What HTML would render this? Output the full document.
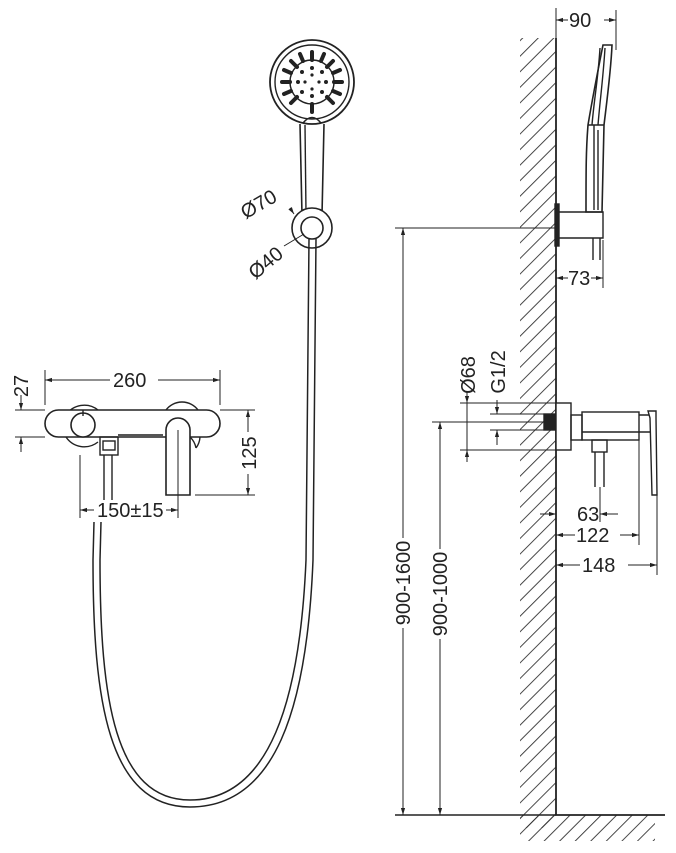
<!DOCTYPE html>
<html><head><meta charset="utf-8"><style>
html,body{margin:0;padding:0;background:#fff;}
svg{display:block;}
text{font-family:"Liberation Sans",sans-serif;font-size:20px;fill:#222;}
</style></head><body>
<svg width="676" height="853" viewBox="0 0 676 853" xmlns="http://www.w3.org/2000/svg">
<defs>
<marker id="a" viewBox="0 0 10 10" refX="10" refY="5" markerWidth="7" markerHeight="7" orient="auto-start-reverse"><path d="M0,2 L10,5 L0,8 z" fill="#222"/></marker>
<pattern id="h" patternUnits="userSpaceOnUse" width="11" height="11" patternTransform="rotate(45)"><line x1="0" y1="0" x2="0" y2="11" stroke="#333" stroke-width="1.8"/></pattern>
</defs>
<g stroke="#222" fill="none" stroke-width="1.4">
<!-- wall -->
<rect x="520" y="38" width="36" height="790" fill="url(#h)" stroke="none"/>
<rect x="520" y="815" width="135" height="26" fill="url(#h)" stroke="none"/>
<path d="M556,38 L556,815 L665,815" stroke-width="1.8"/>
<line x1="395" y1="815" x2="556" y2="815"/>
<!-- 900-1600 / 900-1000 -->
<line x1="395" y1="228" x2="556" y2="228" stroke-width="1"/>
<line x1="403" y1="228" x2="403" y2="538" stroke-width="1" marker-start="url(#a)"/>
<line x1="403" y1="628" x2="403" y2="815" stroke-width="1" marker-end="url(#a)"/>
<line x1="432" y1="422" x2="545" y2="422" stroke-width="1"/>
<line x1="440" y1="422" x2="440" y2="549" stroke-width="1" marker-start="url(#a)"/>
<line x1="440" y1="639" x2="440" y2="815" stroke-width="1" marker-end="url(#a)"/>
<!-- side shower -->
<line x1="556" y1="8" x2="556" y2="38" stroke-width="1"/>
<line x1="616" y1="10" x2="616" y2="50" stroke-width="1"/>
<line x1="556" y1="20" x2="568" y2="20" stroke-width="1" marker-start="url(#a)"/>
<line x1="604" y1="20" x2="616" y2="20" stroke-width="1" marker-end="url(#a)"/>
<rect x="555" y="204" width="4" height="42" fill="#222"/>
<path d="M559,212 H603 V238 H559"/>
<line x1="593" y1="238" x2="593" y2="260"/><line x1="600" y1="238" x2="600" y2="260"/>
<path d="M586,212 C586,170 586,150 588,125 C593,95 598,70 603,45 L612,45 C611,70 607,100 604,125 L602,212 Z" stroke-width="1.6"/>
<path d="M588,125 L604,125 M594,125 L594,210 M598,130 L598,210 M600,48 C598,80 594,100 592,125 M605,48 C603,80 600,100 598,125"/>
<line x1="603" y1="240" x2="603" y2="288" stroke-width="1"/>
<line x1="556" y1="278" x2="568" y2="278" stroke-width="1" marker-start="url(#a)"/>
<line x1="591" y1="278" x2="603" y2="278" stroke-width="1" marker-end="url(#a)"/>
<!-- side mixer -->
<rect x="544" y="414" width="12" height="16" fill="#222"/>
<rect x="556" y="403" width="15" height="47" fill="#fff"/>
<rect x="571" y="415" width="11" height="25"/>
<rect x="582" y="412" width="57" height="28"/>
<line x1="582" y1="432" x2="639" y2="432"/>
<path d="M639,415 H651 V432 H639"/>
<path d="M648,411 H656 V418 L657,495 L652,495 L650,418 Z" fill="#fff"/>
<rect x="592" y="440" width="15" height="12"/>
<line x1="595" y1="452" x2="595" y2="487"/><line x1="604" y1="452" x2="604" y2="487"/>
<!-- Ø68 / G1/2 -->
<line x1="460" y1="403" x2="556" y2="403" stroke-width="1"/>
<line x1="460" y1="450" x2="556" y2="450" stroke-width="1"/>
<line x1="467" y1="392" x2="467" y2="403" stroke-width="1" marker-end="url(#a)"/>
<line x1="467" y1="462" x2="467" y2="450" stroke-width="1" marker-end="url(#a)"/>
<line x1="467" y1="403" x2="467" y2="450" stroke-width="1"/>
<line x1="490" y1="414" x2="544" y2="414" stroke-width="1"/>
<line x1="490" y1="430" x2="544" y2="430" stroke-width="1"/>
<line x1="497" y1="400" x2="497" y2="414" stroke-width="1" marker-end="url(#a)"/>
<line x1="497" y1="445" x2="497" y2="430" stroke-width="1" marker-end="url(#a)"/>
<!-- 63 122 148 -->
<line x1="600" y1="487" x2="600" y2="522" stroke-width="1"/>
<line x1="639" y1="440" x2="639" y2="545" stroke-width="1"/>
<line x1="657" y1="495" x2="657" y2="575" stroke-width="1"/>
<line x1="540" y1="514" x2="556" y2="514" stroke-width="1" marker-end="url(#a)"/>
<line x1="618" y1="514" x2="600" y2="514" stroke-width="1" marker-end="url(#a)"/>
<line x1="556" y1="535" x2="575" y2="535" stroke-width="1" marker-start="url(#a)"/>
<line x1="620" y1="535" x2="639" y2="535" stroke-width="1" marker-end="url(#a)"/>
<line x1="556" y1="565" x2="580" y2="565" stroke-width="1" marker-start="url(#a)"/>
<line x1="628" y1="565" x2="657" y2="565" stroke-width="1" marker-end="url(#a)"/>
<!-- shower head front -->
<circle cx="312" cy="82" r="42" stroke-width="1.8"/>
<circle cx="312" cy="82" r="37"/>
<circle cx="312" cy="82" r="22"/>
<g stroke-width="4" stroke-linecap="round">
<line x1="312" y1="52" x2="312" y2="60"/><line x1="312" y1="104" x2="312" y2="112"/>
<line x1="282" y1="82" x2="290" y2="82"/><line x1="334" y1="82" x2="342" y2="82"/>
<line x1="291" y1="61" x2="297" y2="67"/><line x1="327" y1="97" x2="333" y2="103"/>
<line x1="333" y1="61" x2="327" y2="67"/><line x1="297" y1="97" x2="291" y2="103"/>
<line x1="300" y1="54" x2="303" y2="61"/><line x1="324" y1="54" x2="321" y2="61"/>
<line x1="284" y1="70" x2="291" y2="73"/><line x1="340" y1="70" x2="333" y2="73"/>
<line x1="284" y1="94" x2="291" y2="91"/><line x1="340" y1="94" x2="333" y2="91"/>
</g>
<g fill="#222" stroke="none">
<circle cx="312" cy="68" r="2"/><circle cx="312" cy="96" r="2"/><circle cx="298" cy="82" r="2"/><circle cx="326" cy="82" r="2"/>
<circle cx="302" cy="72" r="2"/><circle cx="322" cy="72" r="2"/><circle cx="302" cy="92" r="2"/><circle cx="322" cy="92" r="2"/>
<circle cx="312" cy="75" r="1.6"/><circle cx="312" cy="89" r="1.6"/><circle cx="305" cy="82" r="1.6"/><circle cx="319" cy="82" r="1.6"/>
</g>
<path d="M303,123 Q312,112 321,123" />
<path d="M300,124 L302,215 L322,215 L324,124" stroke-width="1.6"/>
<line x1="305" y1="125" x2="306" y2="213"/>
<circle cx="312" cy="228" r="20" fill="#fff" stroke-width="1.6"/>
<circle cx="312" cy="228" r="11" stroke-width="1.6"/>
<line x1="290" y1="208" x2="294" y2="214" stroke-width="1" marker-end="url(#a)"/>
<line x1="284" y1="246" x2="304" y2="234" stroke-width="1"/>
<!-- hose -->
<path d="M309,239 L306,560 C300,700 270,800 190,800 C115,800 100,700 100,560 L101,522" stroke-width="1.5"/>
<path d="M316,239 L313,560 C307,710 275,807 190,807 C108,807 93,700 93,560 L94,522" stroke-width="1.5"/>
<!-- front mixer -->
<path d="M66,415 A22,22 0 0 1 98,410"/><path d="M66,437 A22,22 0 0 0 98,442"/>
<path d="M166,410 A20,20 0 0 1 198,410"/><path d="M190,437 A20,20 0 0 1 196,448 M196,448 A20,20 0 0 0 200,437"/>
<rect x="45" y="410" width="175" height="27" rx="13.5" fill="#fff" stroke-width="1.6"/>
<circle cx="83" cy="425" r="12" fill="#fff" stroke-width="1.6"/>
<line x1="83" y1="410" x2="83" y2="416"/>
<rect x="100" y="437" width="18" height="18"/>
<rect x="103" y="441" width="12" height="9"/>
<line x1="104" y1="455" x2="104" y2="500"/><line x1="112" y1="455" x2="112" y2="500"/>
<rect x="118" y="434" width="45" height="3" fill="#555" stroke="none"/>
<path d="M166,495 V430 A12,12 0 0 1 190,430 V495 Z" fill="#fff" stroke-width="1.6"/>
<line x1="178" y1="430" x2="178" y2="518" stroke-width="1"/>
<!-- dims front -->
<line x1="45" y1="370" x2="45" y2="405" stroke-width="1"/>
<line x1="220" y1="370" x2="220" y2="405" stroke-width="1"/>
<line x1="45" y1="380" x2="110" y2="380" stroke-width="1" marker-start="url(#a)"/>
<line x1="158" y1="380" x2="220" y2="380" stroke-width="1" marker-end="url(#a)"/>
<line x1="15" y1="410" x2="45" y2="410" stroke-width="1"/>
<line x1="15" y1="437" x2="45" y2="437" stroke-width="1"/>
<line x1="21" y1="395" x2="21" y2="410" stroke-width="1" marker-end="url(#a)"/>
<line x1="21" y1="452" x2="21" y2="437" stroke-width="1" marker-end="url(#a)"/>
<line x1="220" y1="410" x2="255" y2="410" stroke-width="1"/>
<line x1="195" y1="495" x2="255" y2="495" stroke-width="1"/>
<line x1="248" y1="410" x2="248" y2="432" stroke-width="1" marker-start="url(#a)"/>
<line x1="248" y1="474" x2="248" y2="495" stroke-width="1" marker-end="url(#a)"/>
<line x1="80" y1="455" x2="80" y2="518" stroke-width="1"/>
<line x1="80" y1="510" x2="94" y2="510" stroke-width="1" marker-start="url(#a)"/>
<line x1="166" y1="510" x2="178" y2="510" stroke-width="1" marker-end="url(#a)"/>
</g>
<text x="569" y="27">90</text>
<text x="568" y="285">73</text>
<text x="113" y="387">260</text>
<text x="97" y="517">150±15</text>
<text x="577" y="521">63</text>
<text x="576" y="542">122</text>
<text x="582" y="572">148</text>
<text transform="translate(28,386) rotate(-90)" text-anchor="middle">27</text>
<text transform="translate(256,453) rotate(-90)" text-anchor="middle">125</text>
<text transform="translate(475,375) rotate(-90)" text-anchor="middle">Ø68</text>
<text transform="translate(505,372) rotate(-90)" text-anchor="middle">G1/2</text>
<text transform="translate(410,583) rotate(-90)" text-anchor="middle">900-1600</text>
<text transform="translate(447,594) rotate(-90)" text-anchor="middle">900-1000</text>
<text transform="translate(262,210) rotate(-30)" text-anchor="middle">Ø70</text>
<text transform="translate(270,268) rotate(-40)" text-anchor="middle">Ø40</text>
</svg>
</body></html>
